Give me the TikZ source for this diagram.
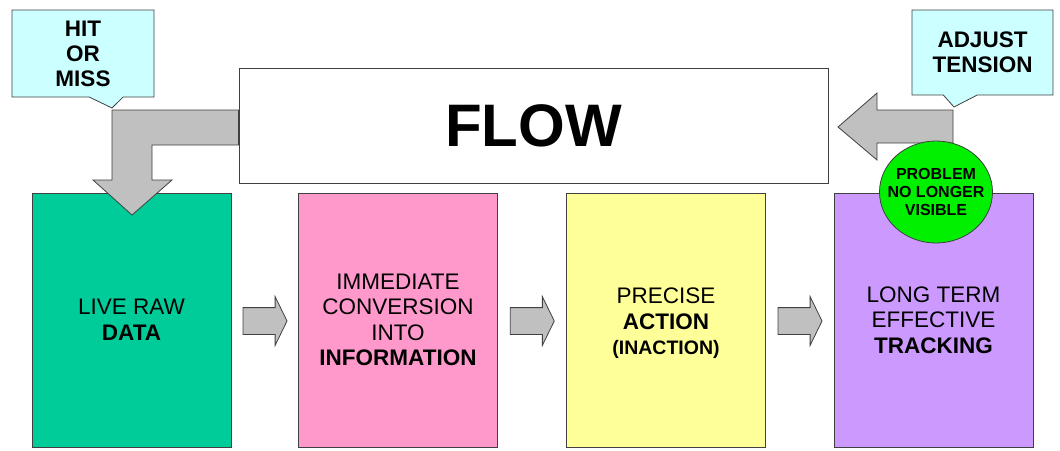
\documentclass[tikz,border=0pt]{standalone}
\usepackage{fontspec}
\setmainfont{Liberation Sans}
\usetikzlibrary{shapes.callouts,shapes.arrows,shapes.geometric,calc}

\definecolor{edgegrey}{RGB}{64,64,64}
\definecolor{arrowgrey}{RGB}{192,192,192}
\definecolor{datagreen}{RGB}{0,204,153}
\definecolor{infopink}{RGB}{255,153,204}
\definecolor{actyellow}{RGB}{255,255,153}
\definecolor{trackpurple}{RGB}{204,153,255}
\definecolor{notecyan}{RGB}{204,255,255}
\definecolor{probgreen}{RGB}{0,240,0}

\begin{document}
\begin{tikzpicture}[x=1pt, y=-1pt,
		every node/.style = {align=center, inner sep=0pt},
		stage/.style = {draw=edgegrey, line width=0.8pt,
			minimum width=199pt, minimum height=254pt,
			font=\fontsize{22.5}{25.5}\selectfont},
		note/.style = {rectangle callout, draw=edgegrey, line width=0.8pt,
			fill=notecyan, callout pointer width=34pt,
			font=\bfseries\fontsize{22.5}{25}\selectfont},
		blockarrow/.style = {draw=edgegrey, line width=0.8pt, fill=arrowgrey},
		steparrow/.style = {single arrow, draw=edgegrey, line width=0.8pt,
			fill=arrowgrey, inner xsep=0pt, inner ysep=13pt, minimum height=44pt,
			single arrow head extend=11pt, single arrow tip angle=128}]
	\useasboundingbox (0,0) rectangle (1060,450);

	% top banner
	\node[draw=edgegrey, line width=0.8pt, minimum width=589pt, minimum height=115pt,
		font=\bfseries\fontsize{60}{62}\selectfont] (flow) at (533.5,125.5) {FLOW};

	% the four stages
	\node[stage, fill=datagreen] (data) at (131.5,320) {LIVE RAW\\\textbf{DATA}};
	\node[stage, fill=infopink] (info) at (398,320) {IMMEDIATE\\CONVERSION\\INTO\\\textbf{INFORMATION}};
	\node[stage, fill=actyellow] (action) at (666,320) {};
	\node[font=\fontsize{22.5}{25.5}\selectfont] (actiontext) at (666,323.5)
		{PRECISE\\\textbf{ACTION}\\{\bfseries\fontsize{19.5}{22}\selectfont(INACTION)}};
	\node[stage, fill=trackpurple] (track) at (933.5,320) {LONG TERM\\EFFECTIVE\\\textbf{TRACKING}};

	\node[steparrow] (a1) at ($(data.east)!0.5!(info.west)+(-3,1)$) {};
	\node[steparrow] (a2) at ($(info.east)!0.5!(action.west)+(-3,1)$) {};
	\node[steparrow] (a3) at ($(action.east)!0.5!(track.west)+(-3,1)$) {};

	% feedback notes
	\node[note, minimum width=142pt, minimum height=87pt,
		callout absolute pointer={(112,108)}] (hit) at (83,53.5) {HIT\\OR\\MISS};
	\node[note, minimum width=141pt, minimum height=85pt,
		callout absolute pointer={(954,107)}] (adjust) at (982.5,52.5) {ADJUST\\TENSION};

	% bent arrow into the data
	\draw[blockarrow] (flow.west |- 0,110) -- (112,110) -- (112,180) -- (93,180)
		-- (132,215) -- (172,180) -- (152,180) -- (152,145) -- (flow.west |- 0,145) -- cycle;
	% arrow back into the flow
	\draw[blockarrow] (953,110) -- (877,110) -- (877,93) -- (838,127)
		-- (877,160) -- (877,143) -- (953,143) -- cycle;

	\node[ellipse, draw=edgegrey, line width=0.8pt, fill=probgreen,
		inner xsep=-10pt, inner ysep=0pt, minimum width=113pt, minimum height=102pt,
		font=\bfseries\fontsize{16}{18}\selectfont] (gone) at (936,192) {PROBLEM\\NO LONGER\\VISIBLE};
\end{tikzpicture}
\end{document}
